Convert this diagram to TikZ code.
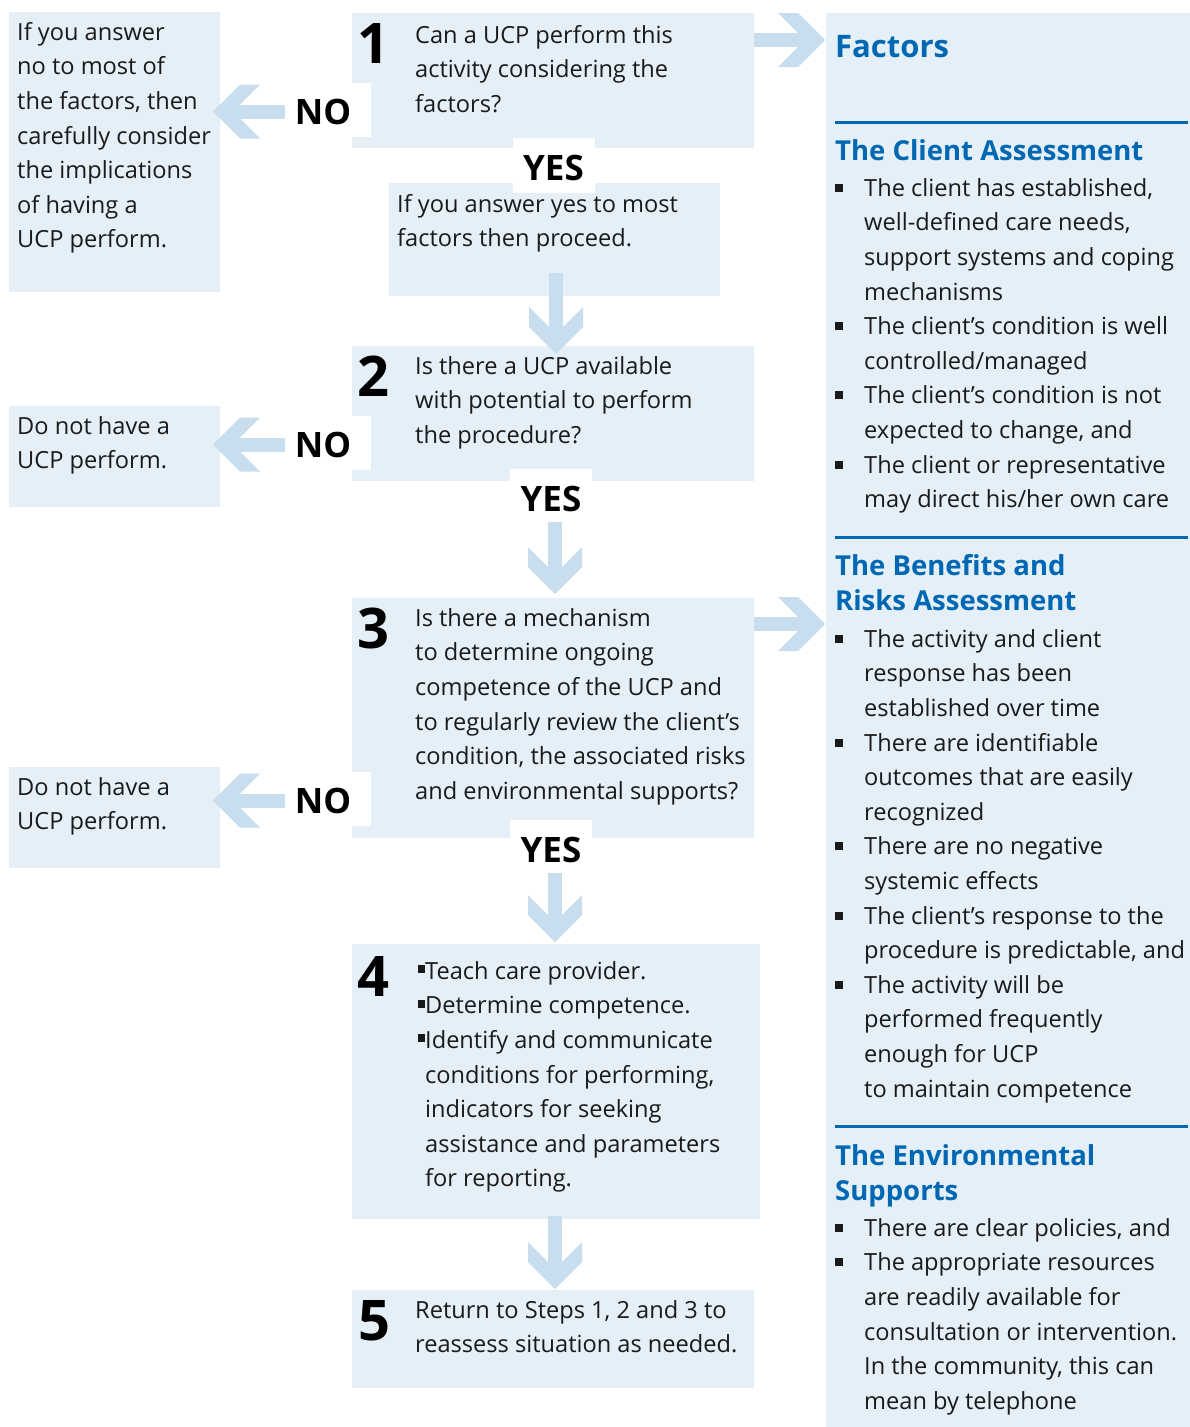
\documentclass[tikz,border=0pt]{standalone}
\usepackage{fontspec}
\setmainfont{Open Sans}
\usetikzlibrary{calc}
\definecolor{boxc}{RGB}{228,239,247}
\definecolor{arrc}{RGB}{200,222,238}
\definecolor{headc}{RGB}{0,104,178}
\definecolor{txtc}{RGB}{26,26,26}
\newcommand\bodyf{\fontsize{23.6}{34.6}\selectfont}
\newcommand\headf{\fontsize{27.5}{35}\selectfont\bfseries}
\newcommand\titf{\fontsize{31}{36}\selectfont\bfseries}
\newcommand\ynf{\fontsize{35}{40}\selectfont\bfseries}
\newcommand\numf{\fontsize{56}{60}\selectfont\bfseries}
\newcommand\sqb{\rule[4.5pt]{8pt}{8pt}}
\newcommand\bul{\makebox[29pt][l]{\sqb}}
\newcommand\ind{\hspace*{29pt}}
\newcommand\tsq{\llap{\rule[6pt]{7pt}{8pt}}}
% fat chevron arrow from #1 to #2, pointing at angle #3
\newcommand\fatarrow[3]{%
  \draw[arrc, line width=14pt] (#1) -- ($(#2)!25pt!(#1)$);
  \begin{scope}[shift={(#2)}, rotate=#3]
    \fill[arrc] (0,0) -- (-27,27) -- (-47,27) -- (-27,7) -- (-27,-7) -- (-47,-27) -- (-27,-27) -- cycle;
  \end{scope}}
\begin{document}
\begin{tikzpicture}[x=1pt,y=1pt,
  box/.style={fill=boxc, inner sep=0pt, outer sep=0pt, anchor=north west, draw=none},
  notch/.style={fill=white, inner sep=0pt, outer sep=0pt, draw=none},
  txt/.style={anchor=north west, inner sep=0pt, align=left, font=\bodyf, text=txtc},
  yn/.style={anchor=base, inner sep=0pt, font=\ynf, text=black},
  num/.style={anchor=base, inner sep=0pt, font=\numf, text=black},
  head/.style={anchor=north west, inner sep=0pt, align=left, font=\headf, text=headc},
  rulec/.style={draw=headc, line width=3pt}]
\useasboundingbox (0,0) rectangle (1190,-1427);
\fill[white] (0,0) rectangle (1190,-1427);
% boxes
\node[box, minimum width=211, minimum height=280] (l1) at (9,-12) {};
\node[box, minimum width=211, minimum height=101] (l2) at (9,-406) {};
\node[box, minimum width=211, minimum height=101] (l3) at (9,-767) {};
\node[box, minimum width=402, minimum height=135] (b1) at (352,-13) {};
\node[box, minimum width=331, minimum height=113] (yb) at (389,-183) {};
\node[box, minimum width=402, minimum height=135] (b2) at (352,-346) {};
\node[box, minimum width=402, minimum height=240] (b3) at (352,-598) {};
\node[box, minimum width=408, minimum height=275] (b4) at (352,-944) {};
\node[box, minimum width=402, minimum height=98] (b5) at (352,-1290) {};
\node[box, minimum width=364, minimum height=1414] (fac) at (826,-13) {};
% white notches
\node[notch, minimum width=86, minimum height=54] (no1w) at (328,-110) {};
\node[notch, minimum width=86, minimum height=54] (no2w) at (328,-443) {};
\node[notch, minimum width=86, minimum height=54] (no3w) at (328,-799) {};
\node[notch, minimum width=82, minimum height=55] (ye1w) at (554,-165.5) {};
\node[notch, minimum width=82, minimum height=55] (ye2w) at (551,-496.5) {};
\node[notch, minimum width=82, minimum height=55] (ye3w) at (551,-847.5) {};
% arrow end points
\coordinate (a1s) at (556,-273); \coordinate (a1e) at (556,-354);
\coordinate (a2s) at (555,-522); \coordinate (a2e) at (555,-594);
\coordinate (a3s) at (555,-873); \coordinate (a3e) at (555,-942);
\coordinate (a4s) at (555,-1216); \coordinate (a4e) at (555,-1289);
\coordinate (r1s) at (754,-40); \coordinate (r1e) at (825,-40);
\coordinate (r2s) at (754,-624); \coordinate (r2e) at (825,-624);
\coordinate (n1s) at (no1w.west |- 0,-111.5); \coordinate (n1e) at (213,-111.5);
\coordinate (n2s) at (no2w.west |- 0,-444.5); \coordinate (n2e) at (213,-444.5);
\coordinate (n3s) at (no3w.west |- 0,-800.5); \coordinate (n3e) at (213,-800.5);
\fatarrow{a1s}{a1e}{-90}
\fatarrow{a2s}{a2e}{-90}
\fatarrow{a3s}{a3e}{-90}
\fatarrow{a4s}{a4e}{-90}
\fatarrow{r1s}{r1e}{0}
\fatarrow{r2s}{r2e}{0}
\fatarrow{n1s}{n1e}{180}
\fatarrow{n2s}{n2e}{180}
\fatarrow{n3s}{n3e}{180}
% NO / YES labels
\node[yn] (no1) at (323,-124) {NO};
\node[yn] (no2) at (323,-457) {NO};
\node[yn] (no3) at (323,-813) {NO};
\node[yn] (ye1) at (553.5,-180) {YES};
\node[yn] (ye2) at (551,-511) {YES};
\node[yn] (ye3) at (551,-862) {YES};
% step numbers
\node[num] (n1) at (373,-63) {1};
\node[num] (n2) at (373,-396) {2};
\node[num] (n3) at (373,-648) {3};
\node[num] (n4) at (373,-996) {4};
\node[num] (n5) at (374,-1340) {5};
% left texts
\node[txt] (t-l1) at (17,-15.78) {\strut If you answer\\no to most of\\the factors, then\\carefully consider\\the implications\\of having a\\UCP perform.};
\node[txt] (t-l2) at (17,-409.78) {\strut Do not have a\\UCP perform.};
\node[txt] (t-l3) at (17,-770.78) {\strut Do not have a\\UCP perform.};
% step texts
\node[txt] (t-b1) at (415,-18.78) {\strut Can a UCP perform this\\activity considering the\\factors?};
\node[txt] (t-yb) at (397,-187.78) {\strut If you answer yes to most\\factors then proceed.};
\node[txt] (t-b2) at (415,-349.78) {\strut Is there a UCP available\\with potential to perform\\the procedure?};
\node[txt] (t-b3) at (415,-601.78) {\strut Is there a mechanism\\to determine ongoing\\competence of the UCP and\\to regularly review the client’s\\condition, the associated risks\\and environmental supports?};
\node[txt] (t-b4) at (425,-954.78) {\strut\tsq Teach care provider.\\\tsq Determine competence.\\\tsq Identify and communicate\\conditions for performing,\\indicators for seeking\\assistance and parameters\\for reporting.};
\node[txt] (t-b5) at (415,-1293.78) {\strut Return to Steps 1, 2 and 3 to\\reassess situation as needed.};
% factors panel
\node[anchor=base west, inner sep=0pt, font=\titf, text=headc] (tit) at (835,-57) {Factors};
\draw[rulec] (835,-122) -- (1188,-122);
\node[anchor=base west, inner sep=0pt, font=\headf, text=headc] (h1) at (835,-160) {The Client Assessment};
\node[txt] (c1) at (835,-171.78) {\strut\bul The client has established,\\\ind well-defined care needs,\\\ind support systems and coping\\\ind mechanisms\\\bul The client’s condition is well\\\ind controlled/managed\\\bul The client’s condition is not\\\ind expected to change, and\\\bul The client or representative\\\ind may direct his/her own care};
\draw[rulec] (835,-537) -- (1188,-537);
\node[head] (h2) at (835,-550.5) {\strut The Benefits and\\Risks Assessment};
\node[txt] (c2) at (835,-622.78) {\strut\bul The activity and client\\\ind response has been\\\ind established over time\\\bul There are identifiable\\\ind outcomes that are easily\\\ind recognized\\\bul There are no negative\\\ind systemic effects\\\bul The client’s response to the\\\ind procedure is predictable, and\\\bul The activity will be\\\ind performed frequently\\\ind enough for UCP\\\ind to maintain competence};
\draw[rulec] (835,-1126) -- (1188,-1126);
\node[head] (h3) at (835,-1140.5) {\strut The Environmental\\Supports};
\node[txt] (c3) at (835,-1211.78) {\strut\bul There are clear policies, and\\\bul The appropriate resources\\\ind are readily available for\\\ind consultation or intervention.\\\ind In the community, this can\\\ind mean by telephone};
\end{tikzpicture}
\end{document}
